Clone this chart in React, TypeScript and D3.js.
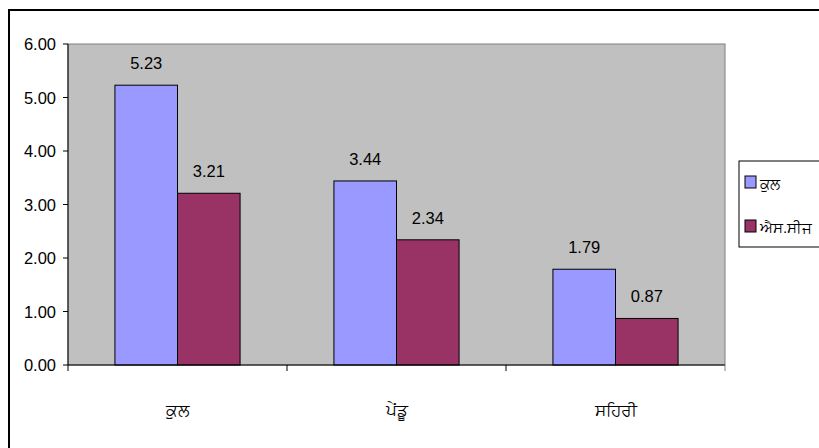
import React from 'react';
import * as d3 from 'd3';

// Chart data
const categories = ['ਕੁਲ', 'ਪੇਂਡੂ', 'ਸਹਿਰੀ'];
const seriesNames = ['ਕੁਲ', 'ਐਸ.ਸੀਜ'];
const totalValues = [5.23, 3.44, 1.79];
const scValues = [3.21, 2.34, 0.87];
const yTicks = [0, 1, 2, 3, 4, 5, 6];
const seriesColors = ['#9999FF', '#993366'];

const W = 819;
const H = 448;
const plot = { left: 68, right: 725, top: 44, bottom: 365 };
const font = '"Liberation Sans", Arial, sans-serif';

export default function App() {
  const x = d3.scaleBand<string>()
    .domain(categories)
    .range([plot.left, plot.right]);
  // gap width 150% as in the original spreadsheet chart
  const x1 = d3.scaleBand<string>()
    .domain(seriesNames)
    .range([0, x.bandwidth()])
    .paddingOuter(0.75);
  const y = d3.scaleLinear().domain([0, 6]).range([plot.bottom, plot.top]);

  const series = [totalValues, scValues];

  return (
    <svg width={W} height={H} style={{ position: 'absolute', left: 0, top: 0 }}>
      <rect x={0} y={0} width={W} height={H} fill="#fff" />
      {/* outer chart frame */}
      <rect x={9} y={10} width={W + 10} height={H + 10} fill="none" stroke="#000" strokeWidth={2} />

      {/* plot area */}
      <rect x={plot.left} y={plot.top} width={plot.right - plot.left} height={plot.bottom - plot.top}
        fill="#C0C0C0" stroke="#808080" strokeWidth={1} />

      {/* bars */}
      {categories.map((c, ci) =>
        series.map((vals, si) => {
          const bx = (x(c) ?? 0) + (x1(seriesNames[si]) ?? 0);
          const by = y(vals[ci]);
          return (
            <g key={`${c}-${si}`}>
              <rect x={bx} y={by} width={x1.bandwidth()} height={plot.bottom - by}
                fill={seriesColors[si]} stroke="#000" strokeWidth={1} />
              <text x={bx + x1.bandwidth() / 2} y={by - 16} textAnchor="middle"
                fontFamily={font} fontSize={16.5} fill="#000">
                {vals[ci].toFixed(2)}
              </text>
            </g>
          );
        })
      )}

      {/* y axis */}
      <line x1={plot.left} x2={plot.left} y1={plot.top} y2={plot.bottom} stroke="#000" />
      {yTicks.map(t => (
        <g key={t}>
          <line x1={plot.left - 5} x2={plot.left} y1={y(t)} y2={y(t)} stroke="#000" />
          <text x={plot.left - 12} y={y(t) + 6} textAnchor="end" fontFamily={font} fontSize={16.5} fill="#000">
            {t.toFixed(2)}
          </text>
        </g>
      ))}

      {/* x axis */}
      <line x1={plot.left} x2={plot.right} y1={plot.bottom} y2={plot.bottom} stroke="#000" />
      {[...categories.map(c => x(c) ?? 0), plot.right].map((tx, i) => (
        <line key={i} x1={tx} x2={tx} y1={plot.bottom} y2={plot.bottom + 6}
          stroke={i === categories.length ? '#808080' : '#000'} />
      ))}
      {categories.map(c => (
        <text key={c} x={(x(c) ?? 0) + x.bandwidth() / 2} y={416} textAnchor="middle"
          fontFamily={font} fontSize={16.5} fill="#000">
          {c}
        </text>
      ))}

      {/* legend */}
      <rect x={739} y={161} width={100} height={86} fill="#fff" stroke="#000" strokeWidth={1} />
      {seriesNames.map((s, i) => (
        <g key={s}>
          <rect x={745} y={176 + i * 44} width={11} height={12} fill={seriesColors[i]} stroke="#000" />
          <text x={760} y={189 + i * 44} fontFamily={font} fontSize={15} fill="#000">{s}</text>
        </g>
      ))}
    </svg>
  );
}
